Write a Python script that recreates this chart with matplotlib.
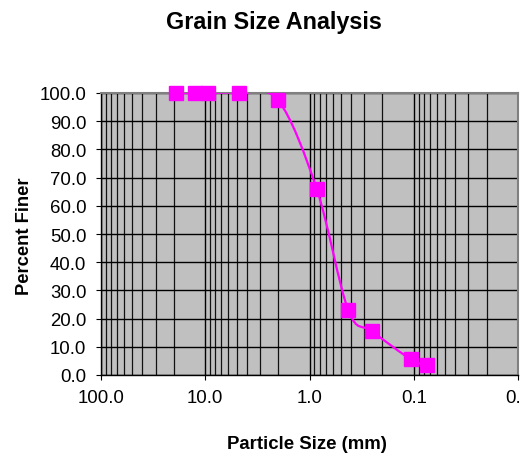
import numpy as np
import matplotlib
matplotlib.use("Agg")
import matplotlib.pyplot as plt
import matplotlib.ticker as tick
from matplotlib.path import Path
from matplotlib.patches import PathPatch

plt.rcParams['font.family'] = ['Liberation Sans', 'DejaVu Sans']

# sieve data
size_mm = [19.0, 12.5, 9.5, 4.75, 2.0, 0.85, 0.425, 0.25, 0.106, 0.075]
pct_finer = [100.0, 100.0, 100.0, 100.0, 97.4, 65.8, 23.0, 15.5, 5.5, 3.6]

x_ticks = [100.0, 10.0, 1.0, 0.1, 0.01]
x_labels = ["100.0", "10.0", "1.0", "0.1", "0.0"]
y_ticks = [0, 10, 20, 30, 40, 50, 60, 70, 80, 90, 100]

fig = plt.figure(figsize=(5.21, 4.56), dpi=100)
ax = fig.add_axes([101/521, 1-376/456, 417/521, 282/456])
ax.set_facecolor('#C0C0C0')

ax.set_xscale('log')
ax.set_xlim(100, 0.01)
ax.set_ylim(0, 100)

ax.set_xticks(x_ticks)
ax.set_xticklabels(x_labels)
ax.xaxis.set_minor_locator(tick.LogLocator(base=10, subs=np.arange(2, 10)))
ax.xaxis.set_minor_formatter(tick.NullFormatter())
ax.set_yticks(y_ticks)
ax.yaxis.set_major_formatter(tick.FuncFormatter(lambda y, _: f"{y:.1f}"))

ax.grid(True, which='major', axis='both', color='black', linewidth=1.0)
ax.grid(True, which='minor', axis='x', color='#111111', linewidth=0.9)
ax.set_axisbelow(True)

ax.tick_params(axis='both', which='major', direction='out', length=3.6,
               labelsize=13.4, color='black')
ax.tick_params(axis='y', which='major', pad=7)
ax.tick_params(axis='x', which='major', pad=6.5)
ax.tick_params(axis='x', which='minor', length=0)

for s in ['top', 'right']:
    ax.spines[s].set_color('#808080')
    ax.spines[s].set_linewidth(1.5)
for s in ['left', 'bottom']:
    ax.spines[s].set_color('black')
    ax.spines[s].set_linewidth(1.0)

# smoothed line (Catmull-Rom as cubic Bezier in log-x space)
lx = np.log10(size_mm)
py = np.array(pct_finer)
verts = [(lx[0], py[0])]
codes = [Path.MOVETO]
n = len(lx)
for i in range(n - 1):
    p0 = (lx[max(i - 1, 0)], py[max(i - 1, 0)])
    p1 = (lx[i], py[i])
    p2 = (lx[i + 1], py[i + 1])
    p3 = (lx[min(i + 2, n - 1)], py[min(i + 2, n - 1)])
    c1 = (p1[0] + (p2[0] - p0[0]) / 6, p1[1] + (p2[1] - p0[1]) / 6)
    c2 = (p2[0] - (p3[0] - p1[0]) / 6, p2[1] - (p3[1] - p1[1]) / 6)
    verts += [c1, c2, p2]
    codes += [Path.CURVE4] * 3
verts = [(10 ** vx, vy) for vx, vy in verts]
patch = PathPatch(Path(verts, codes), facecolor='none', edgecolor='#FF00FF',
                  linewidth=1.6, zorder=3, clip_on=True)
ax.add_patch(patch)

ax.plot(size_mm, pct_finer, linestyle='none', marker='s', markersize=10,
        color='#FF00FF', zorder=4, clip_on=False)

fig.text(274/521, 1-23/456, "Grain Size Analysis", ha='center', va='center',
         fontsize=16.8, fontweight='bold')
fig.text(307/521, 1-445/456, "Particle Size (mm)", ha='center', va='center',
         fontsize=13.4, fontweight='bold')
fig.text(25/521, 1-236/456, "Percent Finer", ha='center', va='center',
         rotation=90, fontsize=13.2, fontweight='bold')

fig.savefig("out.png", dpi=100)
